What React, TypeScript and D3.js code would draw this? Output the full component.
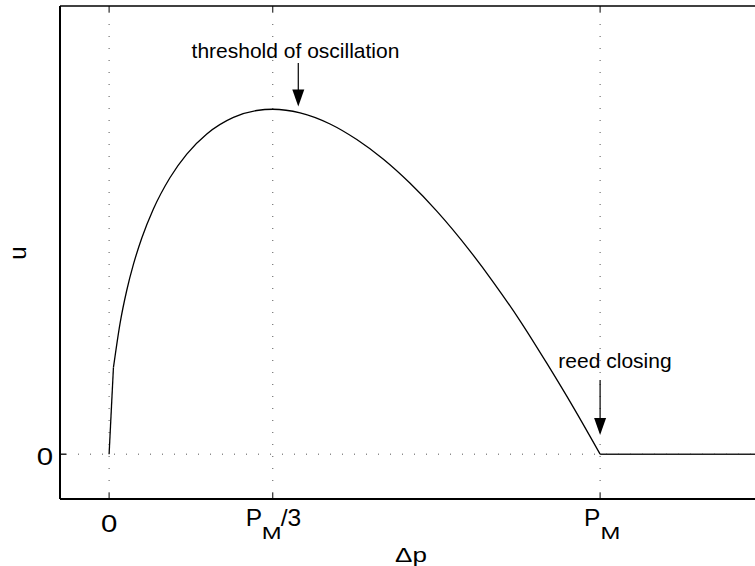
import React from "react";
import * as d3 from "d3";

// Δp in units of P_M, u in arbitrary units
const dpValues = [0, 0.0088, 0.0224, 0.036, 0.0495, 0.0666, 0.0902, 0.1242, 0.1582, 0.199, 0.2532, 0.3008, 0.3333, 0.389, 0.45, 0.5045, 0.5587, 0.613, 0.6674, 0.7352, 0.7827, 0.837, 0.8914, 0.9456, 1.0, 1.4];
const uValues = [0, 0.0965, 0.1463, 0.1829, 0.2117, 0.2411, 0.2735, 0.3087, 0.3348, 0.3572, 0.3757, 0.3834, 0.3848, 0.3808, 0.3684, 0.3510, 0.3290, 0.3022, 0.2712, 0.2266, 0.1918, 0.1488, 0.1015, 0.0522, 0, 0];

const xTickValues = [0, 1 / 3, 1];
const xTickLabels = [["0", "", ""], ["P", "M", "/3"], ["P", "M", ""]];
const yTickValues = [0];
const yTickLabels = ["0"];

const xDomain = [-0.1, 1.4];
const yDomain = [-0.05, 0.5];

const annotations = [
  { text: "threshold of oscillation", x: 0.3853, textX: 0.3796, textY: 0.442, yFrom: 0.4364, yTo: 0.388 },
  { text: "reed closing", x: 1.0, textX: 1.0303, textY: 0.0962, yFrom: 0.0828, yTo: 0.0214 },
];

export default function App() {
  const W = 755, H = 566;
  const left = 60, top = 6, bottom = 499;
  const x = d3.scaleLinear().domain(xDomain).range([left, 796.5]);
  const y = d3.scaleLinear().domain(yDomain).range([bottom, top]);
  const pts = dpValues.map((d, i) => [d, uValues[i]] as [number, number]);
  const iEnd = dpValues.indexOf(1.0);
  const straight = d3.line<[number, number]>().x(d => x(d[0])).y(d => y(d[1]));
  const smooth = d3.line<[number, number]>().x(d => x(d[0])).y(d => y(d[1])).curve(d3.curveMonotoneX);
  const font = "'Liberation Sans', Arial, Helvetica, sans-serif";
  const right = x(xDomain[1]);
  const gridStyle = { stroke: "#555", strokeWidth: 1, strokeDasharray: "1,11" };

  return (
    <svg width={W} height={H} style={{ position: "absolute", left: 0, top: 0, background: "#fff" }} fontFamily={font}>
      {/* grid */}
      {xTickValues.map((v, i) => (
        <line key={"gx" + i} x1={x(v)} x2={x(v)} y1={bottom - 6} y2={top} style={gridStyle} />
      ))}
      {yTickValues.map((v, i) => (
        <line key={"gy" + i} x1={left + 6} x2={right} y1={y(v)} y2={y(v)} style={gridStyle} />
      ))}
      {/* curve */}
      <path d={straight(pts.slice(0, 2)) || ""} fill="none" stroke="#000" strokeWidth={1.3} />
      <path d={smooth(pts.slice(1, iEnd + 1)) || ""} fill="none" stroke="#000" strokeWidth={1.3} />
      <path d={straight(pts.slice(iEnd)) || ""} fill="none" stroke="#222" strokeWidth={1.6} />
      {/* frame */}
      <line x1={left} x2={right} y1={top} y2={top} stroke="#000" strokeWidth={1.3} />
      <line x1={left} x2={right} y1={bottom} y2={bottom} stroke="#000" strokeWidth={2} />
      <line x1={left} x2={left} y1={top} y2={bottom} stroke="#000" strokeWidth={2} />
      {/* ticks */}
      {xTickValues.map((v, i) => {
        const tx = x(v);
        const lab = xTickLabels[i];
        return (
          <g key={"tx" + i}>
            <line x1={tx} x2={tx} y1={bottom} y2={bottom - 6} stroke="#000" strokeWidth={1} />
            <line x1={tx} x2={tx} y1={top} y2={top + 6} stroke="#000" strokeWidth={1} />
            {lab[1] === "" ? (
              <text transform={`translate(${tx},532) scale(1.2,1)`} fontSize={24.5} textAnchor="middle">{lab[0]}</text>
            ) : (
              <g>
                <text x={tx - (lab[2] ? 27 : 16)} y={526} fontSize={24.5}>{lab[0]}</text>
                <text transform={`translate(${tx + (lab[2] ? -11 : 0.5)},538.5) scale(1.4,1)`} fontSize={17}>{lab[1]}</text>
                {lab[2] && <text x={tx + 8} y={526} fontSize={24.5}>{lab[2]}</text>}
              </g>
            )}
          </g>
        );
      })}
      {yTickValues.map((v, i) => (
        <g key={"ty" + i}>
          <line x1={left} x2={left + 6} y1={y(v)} y2={y(v)} stroke="#000" strokeWidth={1.3} />
          <text transform={`translate(53,${y(v) + 10.5}) scale(1.2,1)`} fontSize={24.5} textAnchor="end">{yTickLabels[i]}</text>
        </g>
      ))}
      {/* axis labels */}
      <text transform="translate(411,561.5) scale(1.3,1)" fontSize={20} textAnchor="middle">Δp</text>
      <text transform="translate(26,253) rotate(-90)" fontSize={24} textAnchor="middle">u</text>
      {/* annotations */}
      {annotations.map((a, i) => {
        const ax = x(a.x), y1 = y(a.yFrom), y2 = y(a.yTo);
        return (
          <g key={"an" + i}>
            <text x={x(a.textX)} y={y(a.textY)} fontSize={21} textAnchor="middle">{a.text}</text>
            <line x1={ax} x2={ax} y1={y1} y2={y2 - 14} stroke="#000" strokeWidth={1.2} />
            <path d={`M${ax - 6},${y2 - 17} L${ax + 6},${y2 - 17} L${ax},${y2} Z`} fill="#000" />
          </g>
        );
      })}
    </svg>
  );
}
